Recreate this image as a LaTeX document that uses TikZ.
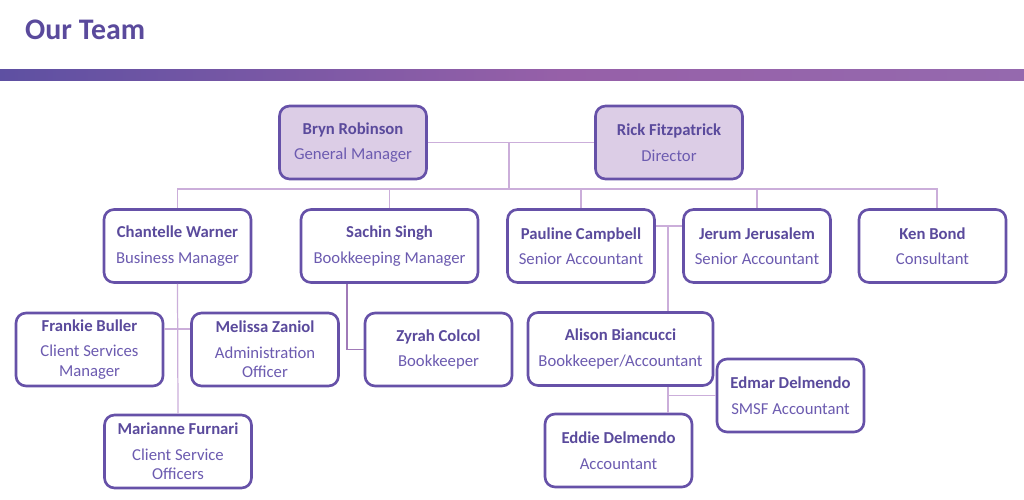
\documentclass[tikz,border=0pt]{standalone}
\usepackage{fontspec}
\setmainfont{Carlito}
\usetikzlibrary{calc}
\definecolor{boxline}{HTML}{6651A8}
\definecolor{namecol}{HTML}{5A4A9C}
\definecolor{titlecol}{HTML}{6C5BB0}
\definecolor{linkcol}{HTML}{CBAEDA}
\definecolor{linkdark}{HTML}{A07AB8}
\definecolor{topfill}{HTML}{DCCDE6}
\definecolor{barleft}{HTML}{5E50A2}
\definecolor{barmid}{HTML}{9660A8}
\definecolor{barright}{HTML}{9569AE}
\begin{document}
\begin{tikzpicture}[x=0.02cm,y=-0.02cm,
    person/.style={draw=boxline, line width=1.5pt, rounded corners=0.2cm, fill=white,
      minimum width=2.94cm, minimum height=1.46cm, align=center, inner sep=0pt,
      font=\fontsize{9.5}{11}\selectfont, text=namecol},
    boss/.style={person, fill=topfill},
    link/.style={draw=linkcol, line width=0.7pt}]
  \useasboundingbox (0,0) rectangle (1024,500);
  % heading and bar
  \node[anchor=west, text=namecol, font=\fontsize{17}{20}\selectfont\bfseries] (heading) at (19,30) {Our Team};
  \shade[left color=barleft, right color=barmid] (0,70) rectangle (561,81);
  \shade[left color=barmid, right color=barright] (560,70) rectangle (1024,81);
  % top
  \node[boss] (bryn) at (353,142.5) {\textbf{Bryn Robinson}\\[3.5pt]{\color{titlecol}General Manager}};
  \node[boss] (rick) at (669,142.5) {\textbf{Rick Fitzpatrick}\\[3.5pt]{\color{titlecol}Director}};
  % second row
  \node[person] (chantelle) at (177.5,246) {\textbf{Chantelle Warner}\\[3.5pt]{\color{titlecol}Business Manager}};
  \node[person, minimum width=3.54cm] (sachin) at (389.5,246) {\textbf{Sachin Singh}\\[3.5pt]{\color{titlecol}Bookkeeping Manager}};
  \node[person] (pauline) at (581,246) {\textbf{Pauline Campbell}\\[3.5pt]{\color{titlecol}Senior Accountant}};
  \node[person] (jerum) at (757,246) {\textbf{Jerum Jerusalem}\\[3.5pt]{\color{titlecol}Senior Accountant}};
  \node[person] (ken) at (932.5,246) {\textbf{Ken Bond}\\[3.5pt]{\color{titlecol}Consultant}};
  % third row
  \node[person] (frankie) at (89.5,349.5) {\textbf{Frankie Buller}\\[3.5pt]{\color{titlecol}Client Services}\\{\color{titlecol}Manager}};
  \node[person] (melissa) at (265,349.5) {\textbf{Melissa Zaniol}\\[3.5pt]{\color{titlecol}Administration}\\{\color{titlecol}Officer}};
  \node[person] (zyrah) at (438.5,349.5) {\textbf{Zyrah Colcol}\\[3.5pt]{\color{titlecol}Bookkeeper}};
  \node[person, minimum width=3.7cm] (alison) at (620.5,349) {\textbf{Alison Biancucci}\\[3.5pt]{\color{titlecol}Bookkeeper/Accountant}};
  \node[person] (edmar) at (790.5,395.5) {\textbf{Edmar Delmendo}\\[3.5pt]{\color{titlecol}SMSF Accountant}};
  % bottom
  \node[person] (marianne) at (178,451.5) {\textbf{Marianne Furnari}\\[3.5pt]{\color{titlecol}Client Service}\\{\color{titlecol}Officers}};
  \node[person] (eddie) at (618.5,450.5) {\textbf{Eddie Delmendo}\\[3.5pt]{\color{titlecol}Accountant}};
  % connectors
  \coordinate (bus) at (509,189);
  \coordinate (cw) at (178,329);
  \coordinate (pj) at (668,226);
  \draw[link] (bryn.east) -- (rick.west);
  \draw[link] (bus |- bryn.east) -- (bus);
  \draw[link] (chantelle.north) |- (bus) -| ([xshift=0.09cm]ken.north);
  \draw[link] (sachin.north) -- (sachin.north |- bus);
  \draw[link] (pauline.north) -- (pauline.north |- bus);
  \draw[link] (jerum.north) -- (jerum.north |- bus);
  \draw[link] (chantelle.south) -- (marianne.north);
  \draw[link] (frankie.east |- cw) -- (melissa.west |- cw);
  \draw[link, draw=linkdark] ([xshift=-0.85cm]sachin.south) |- (zyrah.west);
  \draw[link] (pauline.east |- pj) -- (jerum.west |- pj);
  \draw[link] (pj) -- (pj |- alison.north);
  \draw[link] (pj |- alison.south) -- (pj |- eddie.north);
  \draw[link] (pj |- edmar.west) -- (edmar.west);
\end{tikzpicture}
\end{document}
